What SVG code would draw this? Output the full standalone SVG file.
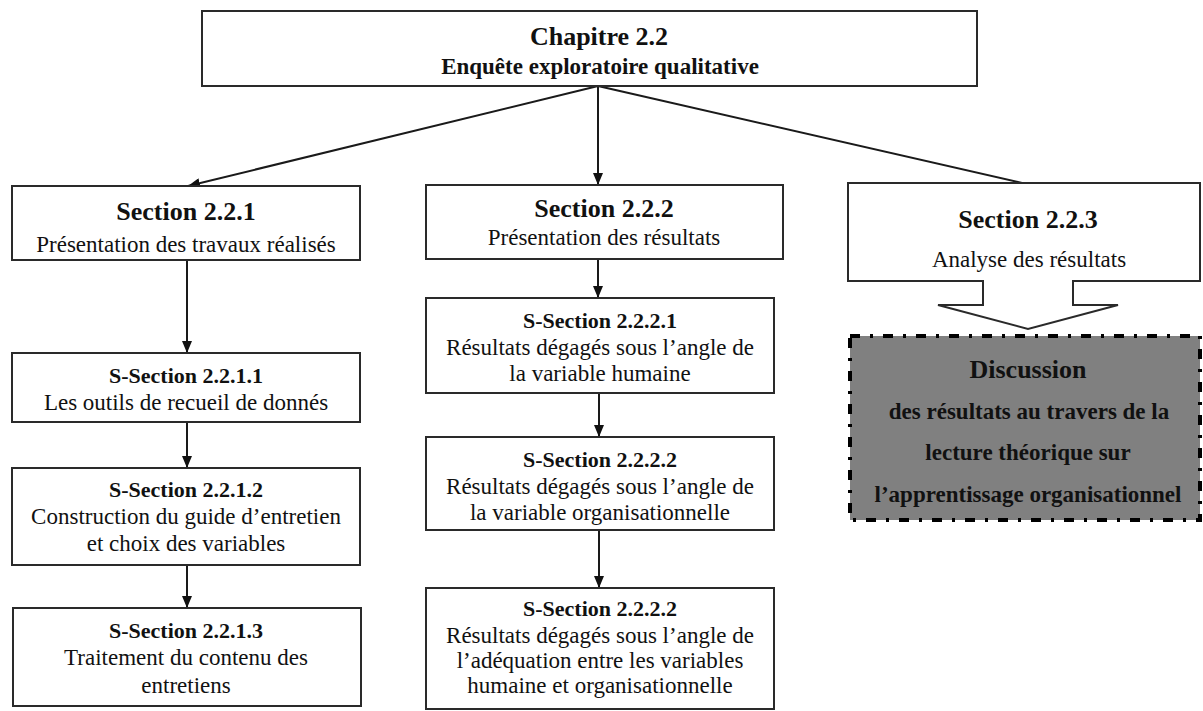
<svg xmlns="http://www.w3.org/2000/svg" width="1203" height="711" viewBox="0 0 1203 711">
<style>
.box{fill:#fff;stroke:#2a2a2a;stroke-width:2}
.ln{stroke:#1a1a1a;stroke-width:2;fill:none}
.t{font-family:"Liberation Serif","Times New Roman",serif;fill:#111;text-anchor:middle}
.h1{font-size:26px;font-weight:bold}
.h2{font-size:22px;font-weight:bold}
.b{font-size:23px}
.d{font-size:23px;font-weight:bold}
</style>
<defs>
<marker id="ah" viewBox="0 0 12 10" refX="12" refY="5" markerWidth="12" markerHeight="10" markerUnits="userSpaceOnUse" orient="auto">
<path d="M0,0 L12,5 L0,10 z" fill="#111"/>
</marker>
</defs>
<rect width="1203" height="711" fill="#fff"/>

<g id="connectors">
<line class="ln" x1="598" y1="86" x2="188" y2="186" marker-end="url(#ah)"/>
<line class="ln" x1="598" y1="86" x2="598" y2="185" marker-end="url(#ah)"/>
<line class="ln" x1="598" y1="86" x2="1022" y2="183"/>
<line class="ln" x1="187" y1="260" x2="187" y2="353" marker-end="url(#ah)"/>
<line class="ln" x1="187" y1="422" x2="187" y2="468" marker-end="url(#ah)"/>
<line class="ln" x1="187" y1="565" x2="187" y2="608" marker-end="url(#ah)"/>
<line class="ln" x1="598" y1="259" x2="598" y2="298" marker-end="url(#ah)"/>
<line class="ln" x1="599" y1="393" x2="599" y2="437" marker-end="url(#ah)"/>
<line class="ln" x1="599" y1="530" x2="599" y2="588" marker-end="url(#ah)"/>
</g>

<g id="chapitre">
<rect class="box" x="202" y="11" width="775" height="75"/>
<text class="t h1" x="599" y="45">Chapitre 2.2</text>
<text class="t d" x="600" y="74">Enquête exploratoire qualitative</text>
</g>

<g id="section-221">
<rect class="box" x="12" y="186" width="348" height="74"/>
<text class="t h1" x="186" y="220">Section 2.2.1</text>
<text class="t b" x="186" y="252">Présentation des travaux réalisés</text>
</g>

<g id="section-222">
<rect class="box" x="426" y="185" width="357" height="74"/>
<text class="t h1" x="604" y="217">Section 2.2.2</text>
<text class="t b" x="604" y="245">Présentation des résultats</text>
</g>

<g id="section-223">
<path class="box" d="M848,183 H1200 V281 H1073 V305 H1118 L1028,329 L938,305 H983 V281 H848 Z"/>
<text class="t h1" x="1028" y="228">Section 2.2.3</text>
<text class="t b" x="1029" y="267">Analyse des résultats</text>
</g>

<g id="discussion">
<rect x="850" y="336" width="350" height="184" fill="#808080" stroke="#000" stroke-width="4" stroke-dasharray="10 10 3 10"/>
<text class="t h2" x="1028" y="378" style="font-size:26px">Discussion</text>
<text class="t d" x="1029" y="419">des résultats au travers de la</text>
<text class="t d" x="1028" y="460">lecture théorique sur</text>
<text class="t d" x="1028" y="502">l’apprentissage organisationnel</text>
</g>

<g id="ss-2211">
<rect class="box" x="12" y="353" width="348" height="69"/>
<text class="t h2" x="186" y="383">S-Section 2.2.1.1</text>
<text class="t b" x="186" y="410">Les outils de recueil de donnés</text>
</g>

<g id="ss-2212">
<rect class="box" x="12" y="468" width="348" height="97"/>
<text class="t h2" x="186" y="497">S-Section 2.2.1.2</text>
<text class="t b" x="186" y="524">Construction du guide d’entretien</text>
<text class="t b" x="186" y="551">et choix des variables</text>
</g>

<g id="ss-2213">
<rect class="box" x="13" y="608" width="348" height="98"/>
<text class="t h2" x="186" y="638">S-Section 2.2.1.3</text>
<text class="t b" x="186" y="665">Traitement du contenu des</text>
<text class="t b" x="186" y="693">entretiens</text>
</g>

<g id="ss-2221">
<rect class="box" x="426" y="298" width="348" height="95"/>
<text class="t h2" x="600" y="328">S-Section 2.2.2.1</text>
<text class="t b" x="600" y="355">Résultats dégagés sous l’angle de</text>
<text class="t b" x="600" y="381">la variable humaine</text>
</g>

<g id="ss-2222">
<rect class="box" x="426" y="437" width="348" height="93"/>
<text class="t h2" x="600" y="467">S-Section 2.2.2.2</text>
<text class="t b" x="600" y="494">Résultats dégagés sous l’angle de</text>
<text class="t b" x="600" y="520">la variable organisationnelle</text>
</g>

<g id="ss-2222b">
<rect class="box" x="426" y="588" width="348" height="121"/>
<text class="t h2" x="600" y="616">S-Section 2.2.2.2</text>
<text class="t b" x="600" y="643">Résultats dégagés sous l’angle de</text>
<text class="t b" x="600" y="668">l’adéquation entre les variables</text>
<text class="t b" x="600" y="693">humaine et organisationnelle</text>
</g>
</svg>
